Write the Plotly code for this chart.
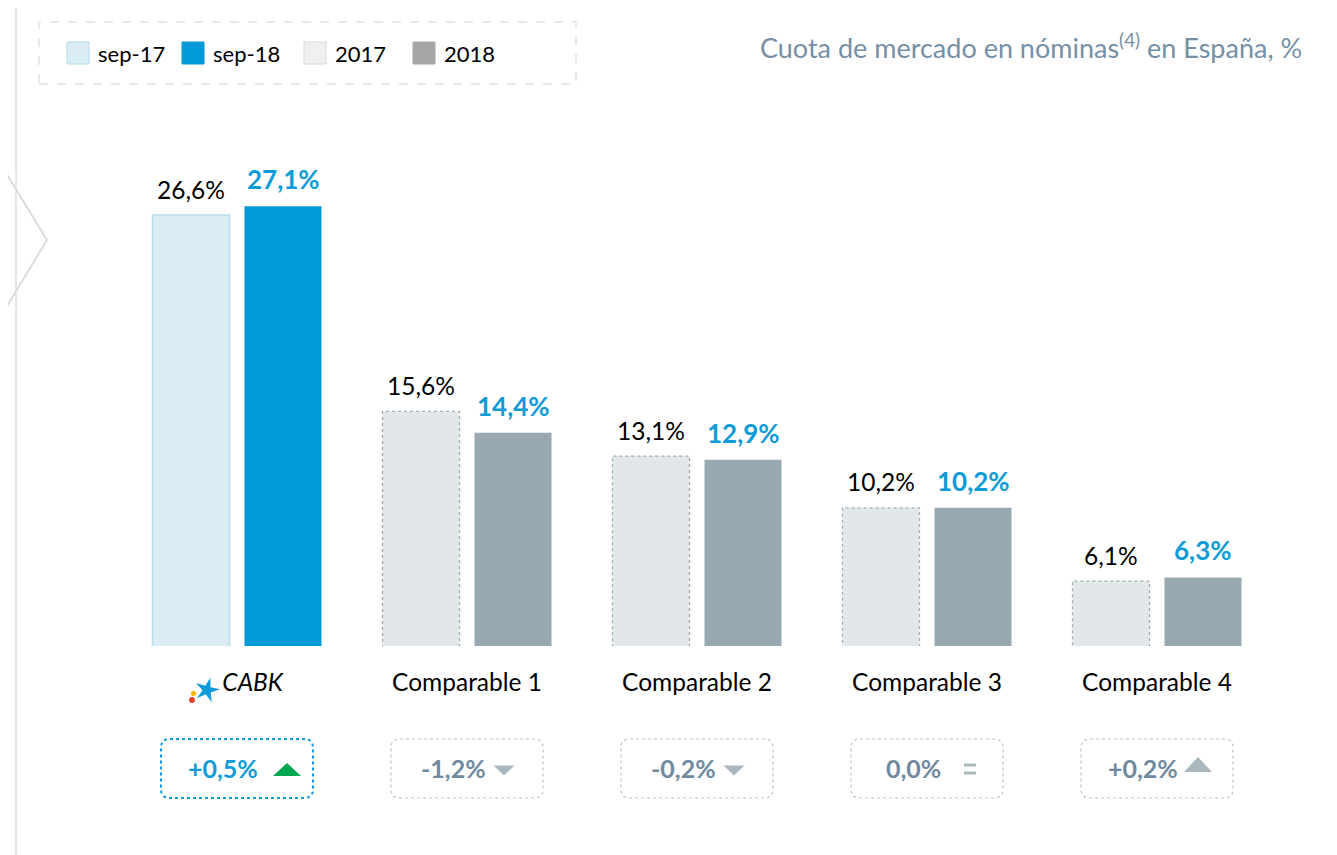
import math
import plotly.graph_objects as go

# ---------------- data ----------------
categories = ["CABK", "Comparable 1", "Comparable 2", "Comparable 3", "Comparable 4"]
prev_values = [26.6, 15.6, 13.1, 10.2, 6.1]   # sep-17 / 2017
curr_values = [27.1, 14.4, 12.9, 10.2, 6.3]   # sep-18 / 2018
delta_labels = ["+0,5%", "-1,2%", "-0,2%", "0,0%", "+0,2%"]
delta_dirs = ["up", "down", "down", "flat", "up"]
legend_labels = ["sep-17", "sep-18", "2017", "2018"]
title_text = "Cuota de mercado en nóminas<sup>(4)</sup> en España, %"

# ---------------- styles ----------------
FONT = "Lato"
prev_fill = ["#daedf4", "#e2e7ea", "#e2e7ea", "#e2e7ea", "#e2e7ea"]
curr_fill = ["#009ad8", "#98a9b2", "#98a9b2", "#98a9b2", "#98a9b2"]
legend_fill = ["#daedf4", "#009ad8", "#f0f0f0", "#a6a6a6"]
legend_line = ["#b4dcea", "#009ad8", "#d9d9d9", "#a6a6a6"]
BLUE = "#0e9bd8"
SLATE = "#6f8aa0"
TRI_GRAY = "#a9b8bf"
GREEN = "#00a650"

OFF = 8  # page body margin
W_PAGE, H_PAGE = 1337, 855
L, R, T, B = 122, 1272, 120, 646
PW, PH = R - L, B - T
Y0 = 2.46
Y1 = Y0 + PH / 17.85
n = len(categories)


def fmt(v):
    return f"{v:.1f}".replace(".", ",") + "%"


def pxx(p):
    return (p - L) / PW


def pxy(p):
    return (B - p) / PH


def cat_px(i):
    return L + (i + 0.5) * PW / n


fig = go.Figure()
fig.add_trace(go.Bar(x=categories, y=prev_values, name="prev",
                     marker=dict(color=prev_fill,
                                 line=dict(color=["#b7dcea"] + ["rgba(0,0,0,0)"] * 4, width=1.5)),
                     showlegend=False, hoverinfo="skip"))
fig.add_trace(go.Bar(x=categories, y=curr_values, name="curr",
                     marker=dict(color=curr_fill, line=dict(width=0)),
                     showlegend=False, hoverinfo="skip"))

shapes = []
annotations = []

BARGAP, GROUPGAP = 0.2, 0.163
slot = (1 - BARGAP) / 2
half_w = slot * (1 - GROUPGAP) / 2

# dotted outlines for comparable previous-year bars
for i in range(1, n):
    cx = i - slot / 2
    shapes.append(dict(type="rect", xref="x", yref="y",
                       x0=cx - half_w, x1=cx + half_w, y0=0, y1=prev_values[i],
                       line=dict(color="#a4adb3", width=1.3, dash="dot"),
                       fillcolor="rgba(0,0,0,0)", layer="above"))

# value labels
for i in range(n):
    annotations.append(dict(x=i - slot / 2, y=prev_values[i], xref="x", yref="y",
                            text=fmt(prev_values[i]), showarrow=False,
                            yanchor="middle", yshift=26,
                            font=dict(family=FONT, size=24.5, color="#000000")))
    annotations.append(dict(x=i + slot / 2, y=curr_values[i], xref="x", yref="y",
                            text="<b>" + fmt(curr_values[i]) + "</b>", showarrow=False,
                            yanchor="middle", yshift=27,
                            font=dict(family=FONT, size=26, color=BLUE)))


def rounded_rect(x0, y0, x1, y1, r):
    pts = [
        f"M {pxx(x0 + r)} {pxy(y0)}",
        f"L {pxx(x1 - r)} {pxy(y0)}",
        f"Q {pxx(x1)} {pxy(y0)} {pxx(x1)} {pxy(y0 + r)}",
        f"L {pxx(x1)} {pxy(y1 - r)}",
        f"Q {pxx(x1)} {pxy(y1)} {pxx(x1 - r)} {pxy(y1)}",
        f"L {pxx(x0 + r)} {pxy(y1)}",
        f"Q {pxx(x0)} {pxy(y1)} {pxx(x0)} {pxy(y1 - r)}",
        f"L {pxx(x0)} {pxy(y0 + r)}",
        f"Q {pxx(x0)} {pxy(y0)} {pxx(x0 + r)} {pxy(y0)}",
        "Z",
    ]
    return " ".join(pts)


def tri(cx, cy, w, h, up):
    if up:
        return (f"M {pxx(cx - w/2)} {pxy(cy + h/2)} L {pxx(cx + w/2)} {pxy(cy + h/2)} "
                f"L {pxx(cx)} {pxy(cy - h/2)} Z")
    return (f"M {pxx(cx - w/2)} {pxy(cy - h/2)} L {pxx(cx + w/2)} {pxy(cy - h/2)} "
            f"L {pxx(cx)} {pxy(cy + h/2)} Z")


# delta boxes
for i in range(n):
    cx = cat_px(i)
    is_main = i == 0
    shapes.append(dict(type="path", xref="paper", yref="paper",
                       path=rounded_rect(cx - 76, 739, cx + 76, 798, 9),
                       line=dict(color=BLUE if is_main else "#c4c4c4",
                                 width=2 if is_main else 1.2, dash="dot"),
                       fillcolor="rgba(0,0,0,0)"))
    annotations.append(dict(x=pxx(cx - 14), y=pxy(768), xref="paper", yref="paper",
                            text="<b>" + delta_labels[i] + "</b>", showarrow=False,
                            xanchor="center", yanchor="middle",
                            font=dict(family=FONT, size=25, color=BLUE if is_main else SLATE)))
    d = delta_dirs[i]
    if d == "flat":
        ex = cx + 43
        for ey in (765, 773):
            shapes.append(dict(type="rect", xref="paper", yref="paper",
                               x0=pxx(ex - 6), x1=pxx(ex + 6), y0=pxy(ey + 1.5), y1=pxy(ey - 1.5),
                               fillcolor=TRI_GRAY, line=dict(width=0)))
    else:
        if is_main:
            shapes.append(dict(type="path", xref="paper", yref="paper",
                               path=tri(cx + 50, 769.5, 28, 13, True),
                               fillcolor=GREEN, line=dict(width=0)))
        elif d == "up":
            shapes.append(dict(type="path", xref="paper", yref="paper",
                               path=tri(cx + 41, 764.5, 28, 15, True),
                               fillcolor=TRI_GRAY, line=dict(width=0)))
        else:
            shapes.append(dict(type="path", xref="paper", yref="paper",
                               path=tri(cx + 37, 770.5, 21, 10, False),
                               fillcolor=TRI_GRAY, line=dict(width=0)))

# outer frame (left, top, right)
frame_col = "#e3e8ec"
shapes.append(dict(type="path", xref="paper", yref="paper",
                   path=f"M {pxx(16)} {pxy(870)} L {pxx(16)} {pxy(5)} L {pxx(1333)} {pxy(5)} L {pxx(1333)} {pxy(870)}",
                   line=dict(color=frame_col, width=2)))
# chevron
shapes.append(dict(type="path", xref="paper", yref="paper",
                   path=f"M {pxx(-5)} {pxy(155)} L {pxx(47)} {pxy(240)} L {pxx(-5)} {pxy(326)}",
                   line=dict(color="#dcdcdc", width=2)))

# legend (dashed box + swatches)
shapes.append(dict(type="rect", xref="paper", yref="paper",
                   x0=pxx(39), x1=pxx(576), y0=pxy(84), y1=pxy(22),
                   line=dict(color="#dde3e8", width=1.5, dash="dash")))
sw_x = [67, 182, 304, 413]
for k, lab in enumerate(legend_labels):
    shapes.append(dict(type="rect", xref="paper", yref="paper",
                       x0=pxx(sw_x[k]), x1=pxx(sw_x[k] + 22), y0=pxy(64), y1=pxy(42),
                       fillcolor=legend_fill[k], line=dict(color=legend_line[k], width=1)))
    annotations.append(dict(x=pxx(sw_x[k] + 29), y=pxy(54), xref="paper", yref="paper",
                            text=lab, showarrow=False, xanchor="left", yanchor="middle",
                            font=dict(family=FONT, size=22, color="#000000")))

# title
annotations.append(dict(x=pxx(1304), y=pxy(46), xref="paper", yref="paper",
                        text=title_text, showarrow=False, xanchor="right", yanchor="middle",
                        font=dict(family=FONT, size=27, color="#7590a6")))

# CaixaBank-like star logo near CABK label
scx, scy = 207, 690
pts = []
for k in range(10):
    ang = math.radians(-90 + 36 * k + 15)
    r = 13 if k % 2 == 0 else 4.5
    pts.append((scx + r * math.cos(ang), scy + r * math.sin(ang)))
logo_path = "M " + " L ".join(f"{pxx(x)} {pxy(y)}" for x, y in pts) + " Z"
shapes.append(dict(type="path", xref="paper", yref="paper", path=logo_path,
                   fillcolor="#0e9bd8", line=dict(width=0)))
shapes.append(dict(type="circle", xref="paper", yref="paper",
                   x0=pxx(189), x1=pxx(195), y0=pxy(703), y1=pxy(697),
                   fillcolor="#e8452c", line=dict(width=0)))
shapes.append(dict(type="circle", xref="paper", yref="paper",
                   x0=pxx(191), x1=pxx(196), y0=pxy(696), y1=pxy(691),
                   fillcolor="#f7b500", line=dict(width=0)))

tick_text = ["\u00a0\u00a0\u00a0\u00a0\u00a0<i>CABK</i>"] + categories[1:]

fig.update_layout(
    width=W_PAGE - OFF, height=H_PAGE - OFF,
    margin=dict(l=L - OFF, r=W_PAGE - R, t=T - OFF, b=H_PAGE - B, pad=0),
    paper_bgcolor="white", plot_bgcolor="white",
    barmode="group", bargap=BARGAP, bargroupgap=GROUPGAP,
    shapes=shapes, annotations=annotations,
    font=dict(family=FONT, color="#000000"),
    xaxis=dict(type="category", range=[-0.5, n - 0.5], showgrid=False, zeroline=False,
               showline=False, ticks="", tickmode="array", tickvals=categories,
               ticktext=tick_text, tickfont=dict(family=FONT, size=24.5, color="#000000"),
               ticklabelstandoff=19),
    yaxis=dict(range=[Y0, Y1], visible=False, showgrid=False, zeroline=False),
)

fig.write_html("out.html")
